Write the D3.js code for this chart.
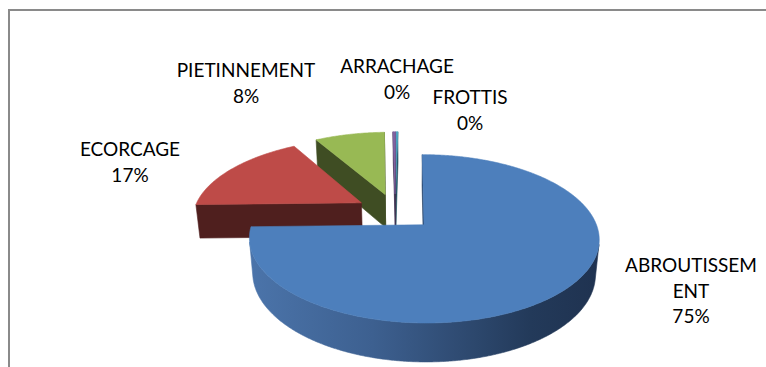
<!DOCTYPE html>
<html>
<head>
<meta charset="utf-8">
<script src="https://cdn.jsdelivr.net/npm/d3@7"></script>
<style>
  html, body { margin: 0; padding: 0; background: #ffffff; overflow: hidden; }
  svg { display: block; }
</style>
</head>
<body>
<svg id="chart" width="766" height="367"></svg>
<script>
// Damage types and their counts (share of observed damage)
const categories = ["ABROUTISSEMENT", "ECORCAGE", "PIETINNEMENT", "ARRACHAGE", "FROTTIS"];
const values = [75, 17, 8, 0.3, 0.2];

// Palette: top faces and darker side faces
const topColors = ["#4d7fbc", "#be4b48", "#98b954", "#7f62a1", "#4aabc6"];
const sideColors = ["#1f3a60", "#4f1f1e", "#3f4d23", "#3b2d4e", "#1f4e5c"];

// Label anchors (centre x, first baseline y)
const labelAnchors = [[691, 272], [130, 156], [246, 77], [397, 73], [470, 104]];

const width = 766, height = 367;
const svg = d3.select("#chart");

// Simple perspective camera looking down on the pie plane
const cam = { F: 918, L: 5.47, elev: 27.5 * Math.PI / 180, xc: 0.1, ox: 412, oy: 211.6 };
const thickness = 0.232;   // pie height in radius units
const explodeBy = 0.237;   // explosion distance in radius units
const sinE = Math.sin(cam.elev), cosE = Math.cos(cam.elev);
const camPos = [cam.xc, cam.L * sinE, cam.L * cosE];

function project(X, Y, Z) {
  const D = cam.L - Y * sinE - Z * cosE;
  return [cam.ox + cam.F * (X - cam.xc) / D, cam.oy + cam.F * (sinE * Z - cosE * Y) / D];
}

const color = d3.scaleOrdinal().domain(categories).range(topColors);
const sideColor = d3.scaleOrdinal().domain(categories).range(sideColors);
const line = d3.line();
const pctFmt = d3.format(".0%");
const total = d3.sum(values);

const pie = d3.pie().sort(null).value(d => d.value).startAngle(0).endAngle(2 * Math.PI);
const arcs = pie(categories.map((c, i) => ({ name: c, value: values[i] })));

// Frame around the chart area
svg.append("rect")
  .attr("x", 9).attr("y", 10).attr("width", 800).attr("height", 400)
  .attr("fill", "none").attr("stroke", "#8a8a8a").attr("stroke-width", 2);

// Gradient for the curved side of the large slice
const defs = svg.append("defs");
const grad = defs.append("linearGradient").attr("id", "sideGrad")
  .attr("gradientUnits", "userSpaceOnUse")
  .attr("x1", 250).attr("y1", 0).attr("x2", 600).attr("y2", 0);
[[0, "#4b74aa"], [0.35, "#3d6090"], [0.6, "#2f4b72"], [0.8, "#233a5a"], [1, "#1f3250"]]
  .forEach(([o, col]) => grad.append("stop").attr("offset", o).attr("stop-color", col));

// Build geometry for each slice
const slices = arcs.map((a, i) => {
  const mid = (a.startAngle + a.endAngle) / 2;
  const ax = explodeBy * Math.sin(mid), az = -explodeBy * Math.cos(mid);
  const pt = (theta, Y) => [ax + Math.sin(theta), Y, az - Math.cos(theta)];
  return { a, i, ax, az, pt };
});

function facing(normal, P) {
  const v = [camPos[0] - P[0], camPos[1] - P[1], camPos[2] - P[2]];
  return normal[0] * v[0] + normal[1] * v[1] + normal[2] * v[2] > 0;
}

function drawPoly(g, pts3, fill, strokeCol) {
  const pts = pts3.map(p => project(p[0], p[1], p[2]));
  g.append("path").attr("d", line(pts) + "Z")
    .attr("fill", fill).attr("stroke", strokeCol || fill).attr("stroke-width", 0.6)
    .attr("stroke-linejoin", "round");
}

// Far slices first
const order = slices.slice().sort((p, q) => {
  const dp = cam.L - p.az * cosE, dq = cam.L - q.az * cosE;
  return dq - dp;
});

const gPie = svg.append("g");
order.forEach(sl => {
  const { a, ax, az, pt } = sl;
  const name = a.data.name;
  const g = gPie.append("g");
  const a0 = a.startAngle, a1 = a.endAngle;
  const apexTop = [ax, 0, az], apexBot = [ax, -thickness, az];

  // radial faces
  const faces = [
    { th: a0, n: [-Math.cos(a0), 0, -Math.sin(a0)] },
    { th: a1, n: [Math.cos(a1), 0, Math.sin(a1)] }
  ];
  faces.forEach(f => {
    const mid = pt(f.th, -thickness / 2);
    const P = [(ax + mid[0]) / 2, -thickness / 2, (az + mid[2]) / 2];
    if (facing(f.n, P)) {
      drawPoly(g, [apexTop, pt(f.th, 0), pt(f.th, -thickness), apexBot], sideColor(name));
    }
  });

  // curved outer side (front-facing runs only)
  const steps = Math.max(2, Math.ceil((a1 - a0) / (Math.PI / 360)));
  let run = [];
  const runs = [];
  for (let k = 0; k <= steps; k++) {
    const th = a0 + (a1 - a0) * k / steps;
    const n = [Math.sin(th), 0, -Math.cos(th)];
    const P = pt(th, -thickness / 2);
    if (facing(n, P)) run.push(th);
    else if (run.length) { runs.push(run); run = []; }
  }
  if (run.length) runs.push(run);
  runs.forEach(r => {
    if (r.length < 2) return;
    const topPts = r.map(th => pt(th, 0));
    const botPts = r.slice().reverse().map(th => pt(th, -thickness));
    const fill = sl.i === 0 ? "url(#sideGrad)" : sideColor(name);
    drawPoly(g, topPts.concat(botPts), fill);
  });

  // top face
  const topPts = [apexTop];
  for (let k = 0; k <= steps; k++) topPts.push(pt(a0 + (a1 - a0) * k / steps, 0));
  drawPoly(g, topPts, color(name));
});

// Labels: category name (wrapped to the label width) and rounded percentage
const fontFamily = "Lato, 'Open Sans', sans-serif";
const fontSize = 19, lineH = 25.5, maxLabelW = 140.5;
const measure = svg.append("text").attr("font-family", fontFamily).attr("font-size", fontSize)
  .attr("visibility", "hidden");
function wrapWord(word) {
  measure.text(word);
  if (measure.node().getComputedTextLength() <= maxLabelW) return [word];
  const lines = [];
  let cur = "";
  for (const ch of word) {
    measure.text(cur + ch);
    if (cur && measure.node().getComputedTextLength() > maxLabelW) { lines.push(cur); cur = ch; }
    else cur += ch;
  }
  if (cur) lines.push(cur);
  return lines;
}

const gLabels = svg.append("g")
  .attr("font-family", fontFamily).attr("font-size", fontSize)
  .attr("fill", "#000000").attr("text-anchor", "middle");
arcs.forEach((a, i) => {
  const [x, y] = labelAnchors[i];
  const lines = wrapWord(a.data.name).concat([pctFmt(a.data.value / total)]);
  const t = gLabels.append("text").attr("x", x).attr("y", y);
  lines.forEach((ln, j) => t.append("tspan").attr("x", x).attr("y", y + j * lineH).text(ln));
});
measure.remove();
</script>
</body>
</html>
